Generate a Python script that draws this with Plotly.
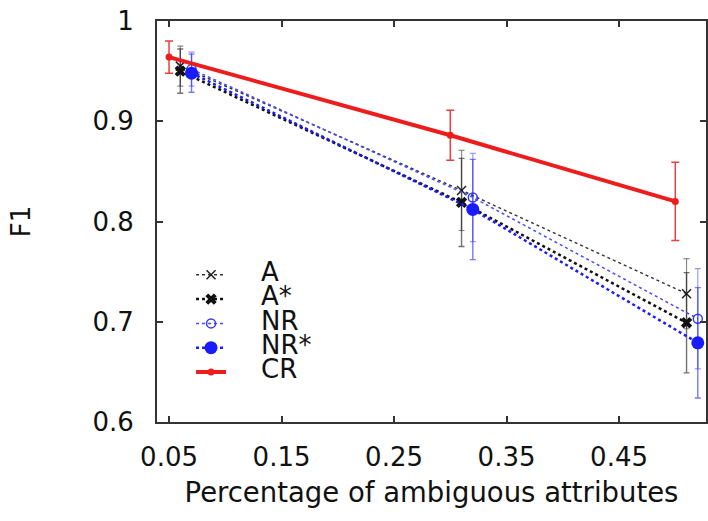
import plotly.graph_objects as go

# ---- data ----
x_cr = [0.05, 0.30, 0.50]
cr = [0.964, 0.886, 0.820]
cr_err = [0.016, 0.025, 0.039]

x_a = [0.06, 0.31, 0.51]
a = [0.955, 0.831, 0.728]
a_err = [0.020, 0.040, 0.035]
a_star = [0.950, 0.819, 0.699]
a_star_err = [0.022, 0.044, 0.050]

x_nr = [0.07, 0.32, 0.52]
nr = [0.952, 0.824, 0.703]
nr_err = [0.017, 0.044, 0.050]
nr_star = [0.948, 0.812, 0.679]
nr_star_err = [0.019, 0.050, 0.055]

x_ticks = [0.05, 0.15, 0.25, 0.35, 0.45]
y_ticks = [0.6, 0.7, 0.8, 0.9, 1.0]
y_tick_labels = ["0.6", "0.7", "0.8", "0.9", "1"]

FONT = "DejaVu Sans, Verdana, sans-serif"
FS = 26
TFS = 27.5
LFS = 26


def lab(s):
    return '<span style="font-size:%dpx">%s%s</span>' % (LFS, "\u00a0" * 3 + "\u2009", s)


fig = go.Figure()

fig.add_trace(go.Scatter(
    x=x_a, y=a, name=lab("A"), mode="lines+markers",
    line=dict(color="#333333", width=1.5, dash="dot"),
    marker=dict(symbol="x-thin-open", size=9, color="#222222",
                line=dict(color="#222222", width=1.5)),
    error_y=dict(type="data", array=a_err, color="rgba(40,40,40,0.55)",
                 thickness=1.2, width=3),
))
fig.add_trace(go.Scatter(
    x=x_a, y=a_star, name=lab("A*"), mode="lines+markers",
    line=dict(color="#111111", width=2.5, dash="dot"),
    marker=dict(symbol="x", size=10, color="#111111"),
    error_y=dict(type="data", array=a_star_err, color="rgba(20,20,20,0.6)",
                 thickness=1.4, width=3),
))
fig.add_trace(go.Scatter(
    x=x_nr, y=nr, name=lab("NR"), mode="lines+markers",
    line=dict(color="#4a4aff", width=1.5, dash="dot"),
    marker=dict(symbol="circle-open", size=9, color="#3a3aff",
                line=dict(color="#3a3aff", width=1.5)),
    error_y=dict(type="data", array=nr_err, color="rgba(70,70,255,0.55)",
                 thickness=1.2, width=3),
))
fig.add_trace(go.Scatter(
    x=x_nr, y=nr_star, name=lab("NR*"), mode="lines+markers",
    line=dict(color="#1a1aff", width=2.5, dash="dot"),
    marker=dict(symbol="circle", size=13, color="#1a1aff"),
    error_y=dict(type="data", array=nr_star_err, color="rgba(30,30,255,0.6)",
                 thickness=1.4, width=3),
))
fig.add_trace(go.Scatter(
    x=x_cr, y=cr, name=lab("CR"), mode="lines+markers",
    line=dict(color="#ee1c1c", width=4),
    marker=dict(symbol="circle", size=7, color="#ee1c1c"),
    error_y=dict(type="data", array=cr_err, color="#e84040",
                 thickness=1.5, width=4),
))

axis_common = dict(
    showline=True, linecolor="#333333", linewidth=2, mirror="ticks",
    ticks="inside", ticklen=6, tickwidth=1.5, tickcolor="#333333",
    showgrid=False, zeroline=False, automargin=False,
    tickfont=dict(family=FONT, size=FS, color="#111111"),
)

fig.update_layout(
    width=708, height=521,
    margin=dict(l=157, r=2, t=21, b=99),
    paper_bgcolor="white", plot_bgcolor="white",
    font=dict(family=FONT, size=FS, color="#111111"),
    xaxis=dict(
        range=[0.0393, 0.5273], tickvals=x_ticks,
        ticktext=["%g" % v for v in x_ticks],
        ticklabelstandoff=11,
        title=dict(text="Percentage of ambiguous attributes",
                   font=dict(family=FONT, size=TFS), standoff=12),
        **axis_common,
    ),
    yaxis=dict(
        range=[0.6, 1.0], tickvals=y_ticks, ticktext=y_tick_labels,
        ticklabelstandoff=16,
        title=dict(text="F1", font=dict(family=FONT, size=FS), standoff=54),
        **axis_common,
    ),
    legend=dict(
        x=0.062, y=0.41, xanchor="left", yanchor="top",
        bgcolor="rgba(0,0,0,0)", borderwidth=0,
        font=dict(family=FONT, size=16.4, color="#111111"),
        tracegroupgap=0,
    ),
    showlegend=True,
)

fig.write_html("out.html", config={"displayModeBar": False},
               post_script="document.body.style.margin='0';")
